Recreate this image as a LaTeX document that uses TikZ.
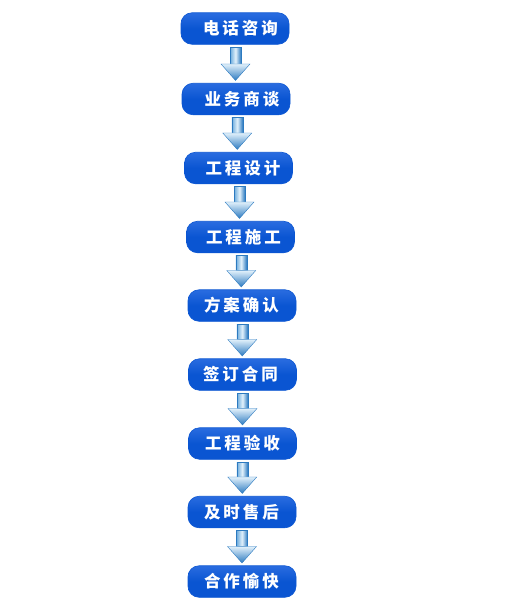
\documentclass[tikz,border=0pt]{standalone}
\usepackage{fontspec}
\newfontfamily\cjk{Noto Sans CJK SC}
\usetikzlibrary{calc}
\definecolor{boxblue}{HTML}{0A55D2}
\definecolor{boxtop}{HTML}{2A6CE0}
\definecolor{arrdark}{HTML}{2C7AC0}
\definecolor{arrmid}{HTML}{6AAADC}
\definecolor{arrlight}{HTML}{E2F1FB}
\tikzset{
  stepbox/.style={rounded corners=11pt, minimum width=108pt, minimum height=31.5pt,
    inner sep=0pt, top color=boxtop, bottom color=boxblue, middle color=boxblue,
    draw=boxblue, line width=0.6pt, text=white,
    font=\cjk\bfseries\fontsize{16.5pt}{18pt}\selectfont},
  shaftfill/.style={left color=arrmid, right color=arrdark, middle color=arrlight, draw=arrdark, line width=0.4pt},
  headfill/.style={top color=arrlight, bottom color=arrdark, draw=arrdark, line width=0.4pt}
}
\newcommand{\flowarrow}[2]{%
  \path let \p1=(#1.south), \p2=(#2.north), \n1={(\x1+\x2)/2} in
    coordinate (t) at (\n1,\y1-2.5pt) coordinate (b) at (\n1,\y2+2.5pt);
  \draw[shaftfill] ($(t)+(-5.5pt,0)$) -- ($(t)+(5.5pt,0)$) -- ($(b)+(5.5pt,16.5pt)$) -- ($(b)+(-5.5pt,16.5pt)$) -- cycle;
  \draw[headfill] ($(b)+(-14.5pt,16.5pt)$) -- ($(b)+(14.5pt,16.5pt)$) -- (b) -- cycle;
}
\newcommand{\gp}{\hspace{3pt}}
\newcommand{\lbl}[5]{\hspace*{#1}#2\gp #3\gp #4\gp #5}
\begin{document}
\begin{tikzpicture}[x=1pt,y=1pt]
\useasboundingbox (0,0) rectangle (504,-611);
\node[stepbox] (n1) at (235,-28.5) {\lbl{11pt}{电}{话}{咨}{询}};
\node[stepbox] (n2) at (236,-99) {\lbl{12pt}{业}{务}{商}{谈}};
\node[stepbox] (n3) at (238.5,-168) {\lbl{9pt}{工}{程}{设}{计}};
\node[stepbox] (n4) at (240.5,-237) {\lbl{6pt}{工}{程}{施}{工}};
\node[stepbox] (n5) at (242,-305.5) {\lbl{-1pt}{方}{案}{确}{认}};
\node[stepbox] (n6) at (242.5,-374.5) {\lbl{-4pt}{签}{订}{合}{同}};
\node[stepbox] (n7) at (242.5,-443.5) {\lbl{0pt}{工}{程}{验}{收}};
\node[stepbox] (n8) at (242,-512) {\lbl{-1pt}{及}{时}{售}{后}};
\node[stepbox] (n9) at (242,-581.5) {\lbl{-1pt}{合}{作}{愉}{快}};
\flowarrow{n1}{n2}
\flowarrow{n2}{n3}
\flowarrow{n3}{n4}
\flowarrow{n4}{n5}
\flowarrow{n5}{n6}
\flowarrow{n6}{n7}
\flowarrow{n7}{n8}
\flowarrow{n8}{n9}
\end{tikzpicture}
\end{document}
